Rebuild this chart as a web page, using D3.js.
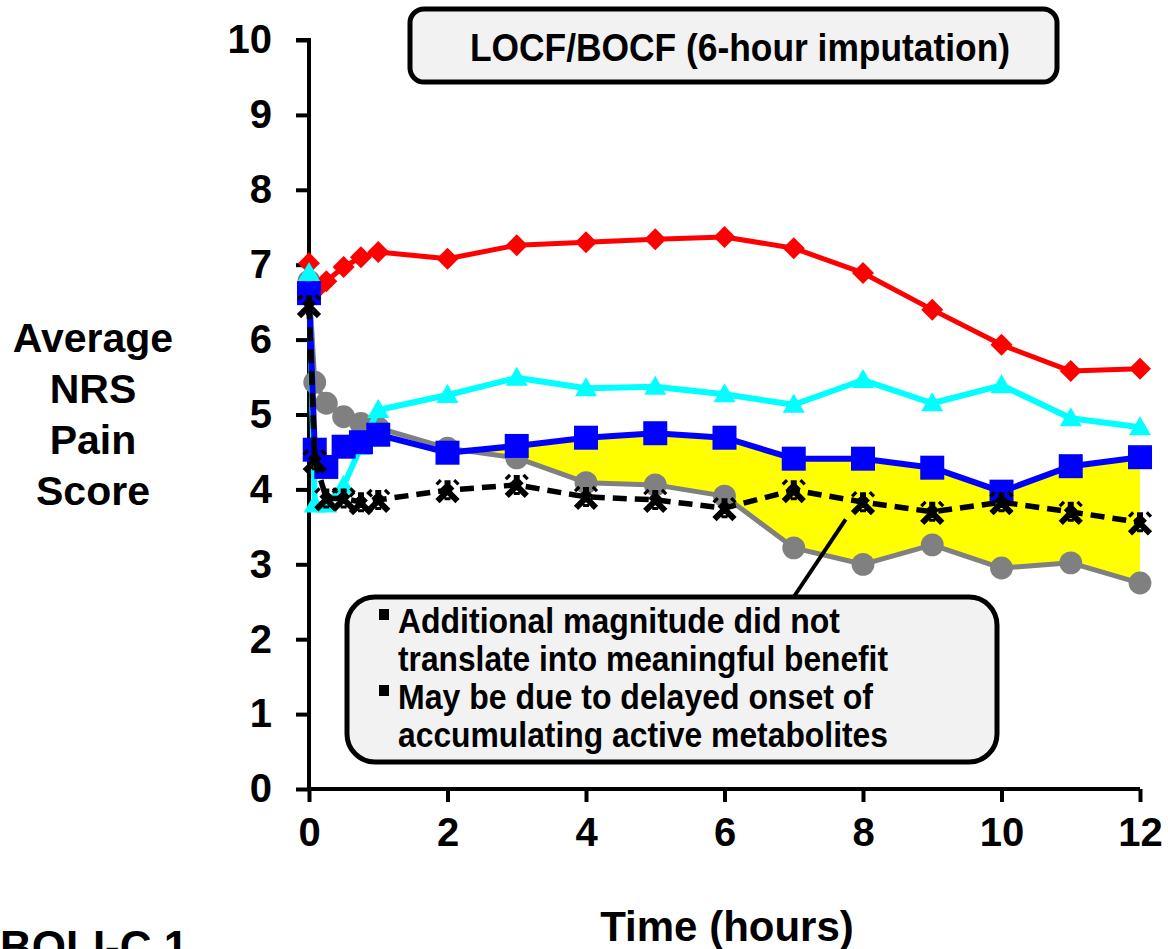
<!DOCTYPE html>
<html>
<head>
<meta charset="utf-8">
<script src="https://cdn.jsdelivr.net/npm/d3@7"></script>
<style>
  body { margin: 0; background: #fff; }
  svg { display: block; font-family: "Liberation Sans", Arial, sans-serif; }
</style>
</head>
<body>
<svg id="chart" width="1168" height="949"></svg>
<script>
/* values */
const hours = [0, 0.083, 0.25, 0.5, 0.75, 1, 2, 3, 4, 5, 6, 7, 8, 9, 10, 11, 12];
const redScores = [7.02, 6.65, 6.78, 6.97, 7.10, 7.17, 7.08, 7.26, 7.30, 7.34, 7.37, 7.22, 6.89, 6.40, 5.93, 5.58, 5.61];
const cyanScores = [6.89, 3.80, 3.80, 4.05, 4.57, 5.06, 5.26, 5.49, 5.35, 5.37, 5.27, 5.13, 5.46, 5.15, 5.39, 4.95, 4.83];
const blueScores = [6.62, 4.53, 4.30, 4.57, 4.63, 4.73, 4.49, 4.58, 4.69, 4.75, 4.69, 4.41, 4.41, 4.29, 3.97, 4.31, 4.43];
const grayScores = [6.78, 5.43, 5.15, 4.97, 4.88, 4.82, 4.55, 4.42, 4.09, 4.06, 3.91, 3.22, 3.00, 3.26, 2.95, 3.02, 2.75];
const blackScores = [6.46, 4.39, 3.88, 3.88, 3.83, 3.86, 3.99, 4.06, 3.90, 3.86, 3.75, 3.99, 3.83, 3.70, 3.83, 3.70, 3.56];
const yTicks = [0, 1, 2, 3, 4, 5, 6, 7, 8, 9, 10];
const xTicks = [0, 2, 4, 6, 8, 10, 12];
const shadeFrom = 2; // yellow band between blue and gray from this hour on

const titleText = "LOCF/BOCF (6-hour imputation)";
const noteLines = ["Additional magnitude did not", "translate into meaningful benefit",
  "May be due to delayed onset of", "accumulating active metabolites"];
const yLabelLines = ["Average", "NRS", "Pain", "Score"];

const svg = d3.select('#chart');

const x = d3.scaleLinear().domain([0, 12]).range([309, 1140]);
const y = d3.scaleLinear().domain([0, 10]).range([789, 40]);

/* shaded area */
const shade = hours.map((h, i) => ({ h: h, lo: grayScores[i], hi: Math.max(blueScores[i], grayScores[i]) }))
  .filter(d => d.h >= shadeFrom);

svg.append('path')
  .datum(shade)
  .attr('fill', '#ffff00')
  .attr('d', d3.area()
    .x(d => x(d.h))
    .y0(d => y(d.lo))
    .y1(d => y(d.hi)));

/* axes */
const yAxis = svg.append('g')
  .attr('transform', `translate(${x(0)},0)`)
  .call(d3.axisLeft(y).tickValues(yTicks).tickSize(13).tickPadding(24).tickFormat(d3.format('d')));

const xAxis = svg.append('g')
  .attr('transform', `translate(0,${y(0)})`)
  .call(d3.axisBottom(x).tickValues(xTicks).tickSize(13).tickPadding(16).tickFormat(d3.format('d')));

[yAxis, xAxis].forEach(function (ax) {
  ax.select('.domain').attr('stroke', '#000').attr('stroke-width', 4);
  ax.selectAll('.tick line').attr('stroke', '#000').attr('stroke-width', 4);
  ax.selectAll('.tick text')
    .attr('fill', '#000')
    .style('font-size', '40px')
    .style('font-weight', 'bold');
});
yAxis.select('.domain').attr('d', `M-13,${y(10)}H0V${y(0) + 2}`);
xAxis.select('.domain').attr('d', `M${x(0) - 2},0H${x(12)}`);

/* series */
const series = [
  { values: grayScores, color: '#808080', width: 5, dash: null, marker: 'circle' },
  { values: redScores, color: '#ff0000', width: 5, dash: null, marker: 'diamond' },
  { values: cyanScores, color: '#00ffff', width: 6, dash: null, marker: 'triangle' },
  { values: blueScores, color: '#0000ff', width: 6, dash: null, marker: 'square' },
  { values: blackScores, color: '#000000', width: 5.5, dash: '14,8', marker: 'star' }
];

const markerPath = {
  circle: d3.symbol().type(d3.symbolCircle).size(410)(),
  diamond: 'M0,-11L11,0L0,11L-11,0Z',
  triangle: 'M0,-11L11,8L-11,8Z',
  square: 'M-12,-12H12V12H-12Z',
  star: 'M-10,11L10,-9M10,11L-10,-9M0,-10V10'
};

const line = d3.line()
  .x((d, i) => x(hours[i]))
  .y(d => y(d));

series.forEach(function (s) {
  const g = svg.append('g');
  g.append('path')
    .datum(s.values)
    .attr('fill', 'none')
    .attr('stroke', s.color)
    .attr('stroke-width', s.width)
    .attr('stroke-dasharray', s.dash)
    .attr('stroke-linejoin', 'round')
    .attr('d', line);

  const marks = g.selectAll('path.mark')
    .data(s.values)
    .enter().append('path')
    .attr('class', 'mark')
    .attr('transform', (d, i) => `translate(${x(hours[i])},${y(d)})`)
    .attr('d', markerPath[s.marker]);

  if (s.marker === 'star') {
    marks.attr('fill', 'none')
      .attr('stroke', '#000')
      .attr('stroke-width', 6)
      .attr('stroke-dasharray', '13,4,4,4');
  } else {
    marks.attr('fill', s.color);
  }
});

/* title box */
svg.append('rect')
  .attr('x', 410).attr('y', 9)
  .attr('width', 647).attr('height', 73)
  .attr('rx', 14)
  .attr('fill', '#f2f2f2')
  .attr('stroke', '#000')
  .attr('stroke-width', 5);

svg.append('text')
  .attr('x', 740).attr('y', 61)
  .attr('text-anchor', 'middle')
  .attr('textLength', 540)
  .attr('lengthAdjust', 'spacingAndGlyphs')
  .style('font-size', '38px')
  .style('font-weight', 'bold')
  .text(titleText);

/* callout */
svg.append('line')
  .attr('x1', x(7.75)).attr('y1', y(3.6))
  .attr('x2', 793).attr('y2', 598)
  .attr('stroke', '#000')
  .attr('stroke-width', 4);

svg.append('rect')
  .attr('x', 347).attr('y', 597)
  .attr('width', 650).attr('height', 165)
  .attr('rx', 28)
  .attr('fill', '#f2f2f2')
  .attr('stroke', '#000')
  .attr('stroke-width', 5);

const noteWidths = [442, 490, 475, 490];
noteLines.forEach(function (t, i) {
  svg.append('text')
    .attr('x', 398).attr('y', 633 + i * 38)
    .attr('textLength', noteWidths[i])
    .attr('lengthAdjust', 'spacingAndGlyphs')
    .style('font-size', '35px')
    .style('font-weight', 'bold')
    .text(t);
  if (i % 2 === 0) {
    svg.append('rect')
      .attr('x', 379).attr('y', 609 + i * 38)
      .attr('width', 10).attr('height', 11)
      .attr('fill', '#000');
  }
});

/* axis titles */
yLabelLines.forEach(function (t, i) {
  svg.append('text')
    .attr('x', 93).attr('y', 352 + i * 51)
    .attr('text-anchor', 'middle')
    .style('font-size', '41px')
    .style('font-weight', 'bold')
    .text(t);
});

svg.append('text')
  .attr('x', 727).attr('y', 941)
  .attr('text-anchor', 'middle')
  .style('font-size', '42px')
  .style('font-weight', 'bold')
  .text('Time (hours)');

svg.append('text')
  .attr('x', 0).attr('y', 962)
  .style('font-size', '44px')
  .style('font-weight', 'bold')
  .text('BOLI-C 1');
</script>
</body>
</html>
